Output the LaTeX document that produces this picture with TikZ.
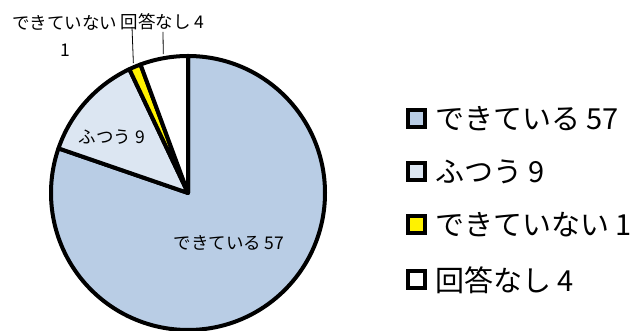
\documentclass[tikz,border=0pt]{standalone}
\usepackage{fontspec}
\newfontfamily\jpfont{Noto Sans CJK JP}
\usetikzlibrary{positioning}
\definecolor{okblue}{RGB}{185,205,229}
\definecolor{midblue}{RGB}{220,230,242}
\tikzset{
  slice/.style={draw=black, line width=4pt, line join=round},
  legbox/.style={draw=black, line width=4pt, minimum size=17pt, inner sep=0pt},
  lbl/.style={font=\jpfont\fontsize{17.5}{27}\selectfont, inner sep=0pt, align=center},
  legtxt/.style={font=\jpfont\fontsize{29}{34}\selectfont, inner sep=0pt, anchor=west},
  leader/.style={draw=black, line width=0.8pt}
}
\begin{document}
\begin{tikzpicture}[x=1pt, y=1pt]
\useasboundingbox (0,0) rectangle (643,331);
\coordinate (ctr) at (188,138);
% slices, clockwise from the top
\draw[slice, fill=okblue] (ctr) -- ++(90:137) arc[start angle=90, end angle=-199.01, radius=137] -- cycle;
\draw[slice, fill=midblue] (ctr) -- ++(160.99:137) arc[start angle=160.99, end angle=115.35, radius=137] -- cycle;
\draw[slice, fill=yellow] (ctr) -- ++(115.35:137) arc[start angle=115.35, end angle=110.28, radius=137] -- cycle;
\draw[slice, fill=white] (ctr) -- ++(110.28:137) arc[start angle=110.28, end angle=90, radius=137] -- cycle;
% labels
\node[lbl] (lab1) at (229,88) {できている 57};
\node[lbl] (lab2) at (112,194) {ふつう 9};
\node[lbl] (lab3) at (65,295.5) {できていない\\1};
\node[lbl] (lab4) at (162.5,309) {回答なし 4};
\path (ctr) ++(112.8:141) coordinate (p3);
\path (ctr) ++(100.1:141) coordinate (p4);
\coordinate (q3) at (132,304);
\coordinate (q4) at (163,299);
\draw[leader] (q3) -- (p3);
\draw[leader] (q4) -- (p4);
% legend
\node[legbox, fill=okblue] (b1) at (416.5,212.5) {};
\node[legbox, fill=midblue] (b2) at (416.5,159) {};
\node[legbox, fill=yellow] (b3) at (416.5,106) {};
\node[legbox, fill=white] (b4) at (416.5,51) {};
\node[legtxt, right=8pt of b1] (t1) {できている 57};
\node[legtxt, right=8pt of b2] (t2) {ふつう 9};
\node[legtxt, right=8pt of b3] (t3) {できていない 1};
\node[legtxt, right=8pt of b4] (t4) {回答なし 4};
\end{tikzpicture}
\end{document}
